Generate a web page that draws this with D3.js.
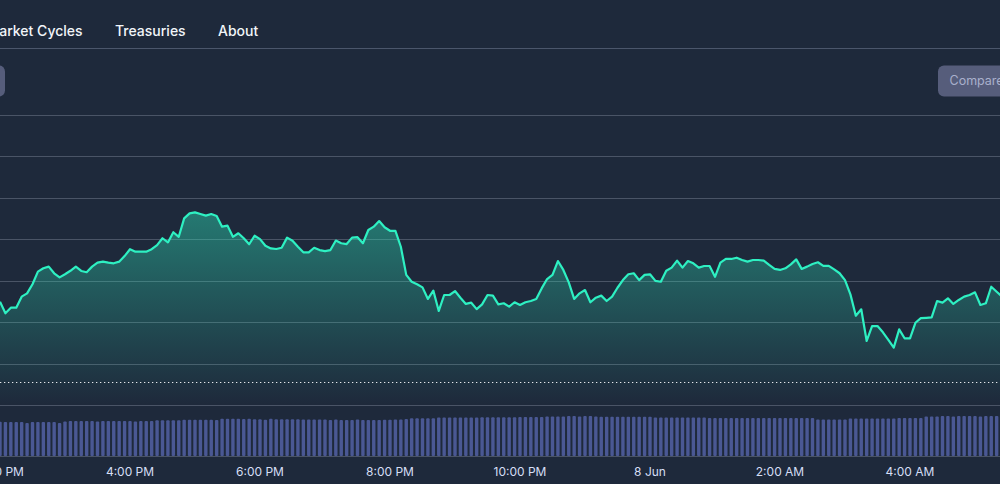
<!DOCTYPE html>
<html><head><meta charset="utf-8">
<script src="https://cdn.jsdelivr.net/npm/d3@7"></script>
<style>html,body{margin:0;padding:0;background:#1e293b;overflow:hidden}svg{display:block}</style>
</head><body>
<svg id="chart" width="1000" height="484"></svg>
<script>
// ---- data ----
const navItems = ["Market Cycles", "Treasuries", "About"];
const startTime = Date.UTC(2025, 5, 7, 14, 0); // 7 Jun, 2:00 PM
const stepMinutes = 5;
const prices = [
105099,105043,105070,105070,105123,105139,105183,105244,105260,105268,
105236,105216,105231,105248,105268,105247,105241,105268,105287,105292,
105287,105284,105292,105319,105352,105340,105340,105340,105352,105372,
105405,105385,105434,105412,105501,105525,105530,105522,105514,105522,
105512,105461,105466,105412,105429,105405,105376,105417,105401,105369,
105356,105353,105359,105408,105393,105364,105337,105337,105359,105348,
105343,105348,105394,105381,105377,105408,105410,105381,105445,105461,
105488,105458,105441,105441,105364,105228,105195,105183,105168,105112,
105152,105054,105131,105131,105150,105118,105088,105094,105063,105086,
105131,105128,105086,105091,105075,105096,105083,105096,105102,105112,
105163,105208,105228,105295,105252,105192,105112,105139,105155,105096,
105118,105128,105102,105123,105166,105203,105231,105236,105203,105228,
105231,105199,105195,105248,105263,105297,105263,105295,105284,105263,
105271,105271,105219,105287,105305,105305,105311,105300,105292,105300,
105300,105297,105276,105257,105252,105260,105279,105303,105257,105268,
105281,105289,105272,105272,105255,105236,105203,105134,105031,105062,
104909,104981,104981,104951,104914,104877,104965,104922,104922,104997,
105019,105021,105023,105102,105094,105115,105088,105107,105123,105131,
105144,105083,105091,105171,105147,105123
];
const volumes = [
3430,3400,3400,3400,3400,3300,3400,3400,3400,3400,
3400,3300,3450,3500,3500,3500,3500,3500,3450,3500,
3500,3500,3500,3500,3500,3450,3500,3500,3500,3570,
3570,3570,3570,3570,3630,3630,3630,3630,3630,3630,
3600,3730,3730,3730,3730,3700,3730,3670,3670,3630,
3730,3670,3670,3670,3670,3670,3650,3650,3650,3650,
3650,3600,3650,3600,3600,3600,3650,3600,3600,3600,
3600,3630,3630,3650,3650,3700,3770,3770,3770,3770,
3770,3850,3850,3850,3850,3850,3850,3850,3850,3870,
3870,3870,3870,3870,3870,3870,3900,3900,3900,3900,
3900,3950,3950,3950,3950,4000,4000,3950,4000,4000,
3950,3930,3930,3930,3930,3930,3930,3930,3930,3930,
3930,3850,3850,3850,3850,3850,3850,3850,3850,3850,
3850,3800,3800,3800,3800,3800,3800,3800,3800,3800,
3800,3800,3800,3800,3800,3800,3800,3800,3800,3800,
3800,3650,3650,3650,3650,3650,3650,3750,3750,3750,
3750,3750,3750,3750,3750,3750,3800,3800,3800,3800,
3800,3950,3950,3950,4000,4000,3950,4000,4000,4000,
4000,3950,4000,4000,4000,4000
];
const prevClose = 104711;
const priceTicks = [104600,104800,105000,105200,105400,105600,105800,106000];
const timeTickLabels = ["2:00 PM","4:00 PM","6:00 PM","8:00 PM","10:00 PM","8 Jun","2:00 AM","4:00 AM"];
const buttonLabels = ["", "Compare"];

// ---- drawing ----
const svg = d3.select("#chart");
const W = 1000, H = 484;
const font = "Inter, 'Noto Sans', sans-serif";

svg.append("rect").attr("width", W).attr("height", H).attr("fill", "#1e293b");

// nav
const navX = [-13.5, 115, 218];
svg.selectAll("text.nav").data(navItems).join("text")
  .attr("class","nav")
  .attr("x",(d,i)=>navX[i]).attr("y",36)
  .attr("fill","#f1f5f9").attr("font-family",font).attr("font-size",14).attr("font-weight",500)
  .text(d=>d);
svg.append("line").attr("x1",0).attr("x2",W).attr("y1",48.5).attr("y2",48.5)
  .attr("stroke","#4b566b").attr("stroke-width",1);

// buttons
svg.append("rect").attr("x",-40).attr("y",65.5).attr("width",45).attr("height",31).attr("rx",6)
  .attr("fill","#565d7b");
svg.append("rect").attr("x",938).attr("y",65.5).attr("width",90).attr("height",31).attr("rx",6)
  .attr("fill","#565d7b");
svg.append("text").attr("x",949.5).attr("y",85).attr("fill","#a9b0cc")
  .attr("font-family",font).attr("font-size",12.5).text(buttonLabels[1]);

// scales
const times = prices.map((d,i)=> new Date(startTime + i*stepMinutes*60000));
const x = d3.scaleTime()
  .domain([new Date(startTime), new Date(startTime + (1000/65)*3600000)])
  .range([0, W]);
const y = d3.scaleLinear().domain([104600, 106000]).range([405, 115]);
const vy = d3.scaleLinear().domain([0, 4000]).range([456, 416]);

// grid
svg.selectAll("line.grid").data(priceTicks).join("line")
  .attr("class","grid")
  .attr("x1",0).attr("x2",W)
  .attr("y1",d=>Math.round(y(d))+0.5).attr("y2",d=>Math.round(y(d))+0.5)
  .attr("stroke","#4a5466").attr("stroke-width",1);

// gradient
const defs = svg.append("defs");
const grad = defs.append("linearGradient").attr("id","ag").attr("x1",0).attr("x2",0).attr("y1",0).attr("y2",1);
grad.append("stop").attr("offset","0%").attr("stop-color","#2ee8bd").attr("stop-opacity",0.42);
grad.append("stop").attr("offset","100%").attr("stop-color","#2ee8bd").attr("stop-opacity",0.0);

const area = d3.area().x((d,i)=>x(times[i])).y0(405).y1(d=>y(d));
const areaTop = d3.min(prices, d=>y(d));
grad.attr("gradientUnits","userSpaceOnUse").attr("y1",areaTop).attr("y2",405);
svg.append("path").datum(prices).attr("d",area).attr("fill","url(#ag)");

// prev close dotted
svg.append("line").attr("x1",0).attr("x2",W)
  .attr("y1",Math.round(y(prevClose))+0.5).attr("y2",Math.round(y(prevClose))+0.5)
  .attr("stroke","#e5e7eb").attr("stroke-width",1.2).attr("stroke-dasharray","1.3,2.7");

const line = d3.line().x((d,i)=>x(times[i])).y(d=>y(d));
svg.append("path").datum(prices).attr("d",line).attr("fill","none")
  .attr("stroke","#2ef0c2").attr("stroke-width",2.2).attr("stroke-linejoin","round");

// volume bars
const bw = 3.4;
svg.selectAll("rect.vol").data(volumes).join("rect")
  .attr("class","vol")
  .attr("x",(d,i)=>x(times[i]) - bw/2)
  .attr("y",d=>vy(d))
  .attr("width",bw).attr("height",d=>456 - vy(d))
  .attr("rx",1)
  .attr("fill","#4a5894");
svg.append("line").attr("x1",0).attr("x2",W).attr("y1",456.5).attr("y2",456.5)
  .attr("stroke","#4a5466").attr("stroke-width",1);

// x labels
const tickTimes = timeTickLabels.map((d,i)=> new Date(startTime + i*2*3600000));
svg.selectAll("text.xt").data(tickTimes).join("text")
  .attr("class","xt")
  .attr("x",d=>x(d)).attr("y",476)
  .attr("text-anchor","middle")
  .attr("fill","#d5def5").attr("font-family",font).attr("font-size",12)
  .text((d,i)=>timeTickLabels[i]);
</script>
</body></html>
